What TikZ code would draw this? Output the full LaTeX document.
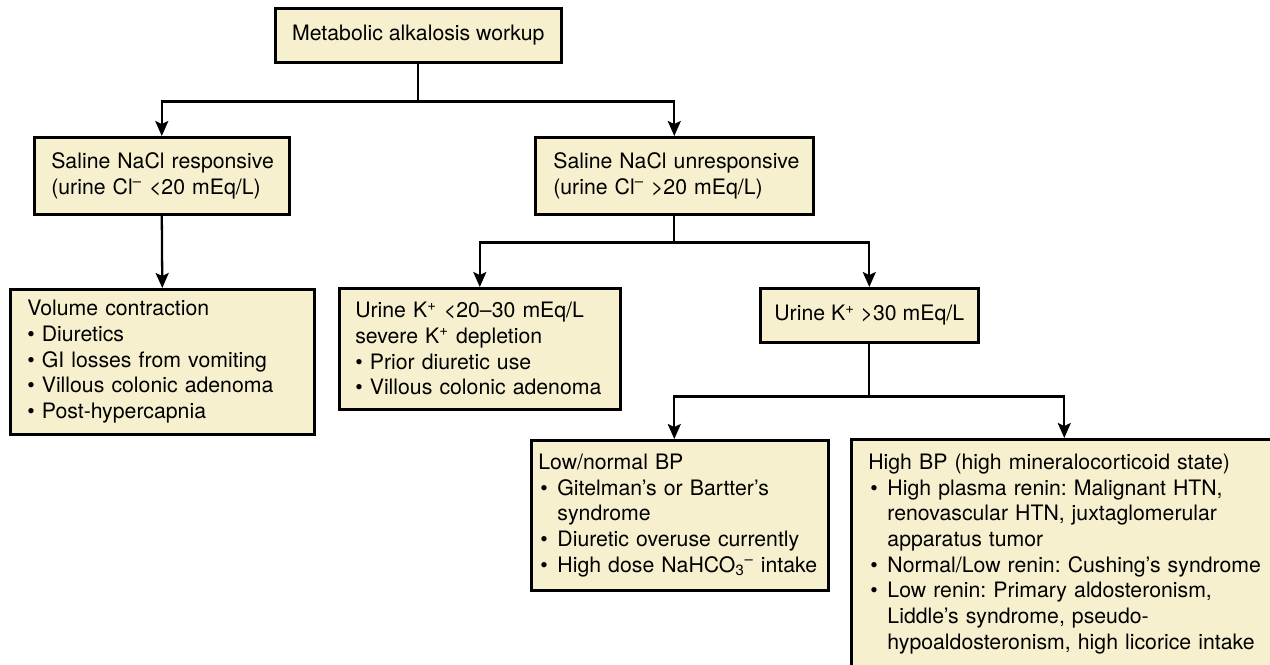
\documentclass[tikz,border=0pt]{standalone}
\usepackage{fontspec}
\setmainfont{TeX Gyre Heros}
\usetikzlibrary{arrows.meta}

\definecolor{boxfill}{RGB}{246,240,206}

\newcommand{\hb}{\makebox[0.9em][l]{\hspace{0.1em}\textbullet}}
\newcommand{\hc}{\hspace*{0.9em}}
\newcommand{\supminus}{\textsuperscript{--}}
\newcommand{\supplus}{\textsuperscript{+}}

\tikzset{
	box/.style={draw, fill=boxfill, line width=1.5pt, align=left, inner ysep=0pt,
		anchor=north west, font=\fontsize{12.1}{14.6}\selectfont,
		execute at begin node={\frenchspacing\hyphenpenalty=10000\rightskip=-0.8cm plus 1fil\relax}},
	arr/.style={line width=1.3pt, -{Stealth[length=3mm,width=2.6mm,inset=0.6mm]}}
}

\begin{document}
\begin{tikzpicture}[x=0.02cm, y=-0.02cm]
	\useasboundingbox (0,0) rectangle (1270,664);
	\clip (0,0) rectangle (1270,664);
	% boxes
	\node[box, align=center, minimum width=5.72cm, minimum height=1.08cm] (top) at (274,7)
		{Metabolic alkalosis workup};
	\node[box, inner xsep=0.34cm, text width=4.42cm, minimum height=1.54cm] (resp) at (33,136)
		{Saline NaCl responsive\\(urine Cl\supminus{} <20 mEq/L)};
	\node[box, inner xsep=0.36cm, text width=4.84cm, minimum height=1.54cm] (unresp) at (534,136)
		{Saline NaCl unresponsive\\(urine Cl\supminus{} >20 mEq/L)};
	\node[box, inner xsep=0.34cm, text width=5.4cm, minimum height=2.9cm] (vol) at (9,288)
		{Volume contraction\\\textbullet\ Diuretics\\\textbullet\ GI losses from vomiting\\
		\textbullet\ Villous colonic adenoma\\\textbullet\ Post-hypercapnia};
	\node[box, inner xsep=0.32cm, text width=4.98cm, minimum height=2.42cm] (k20) at (338,287)
		{Urine K\supplus{} <20--30 mEq/L\\severe K\supplus{} depletion\\\textbullet\ Prior diuretic use\\
		\textbullet\ Villous colonic adenoma};
	\node[box, align=center, minimum width=4.36cm, minimum height=1.08cm] (k30) at (759,287)
		{Urine K\supplus{} >30 mEq/L};
	\node[box, inner xsep=0.14cm, text width=5.66cm, minimum height=3.0cm] (lowbp) at (530,439)
		{Low/normal BP\\\hb Gitelman’s or Bartter’s\\\hc syndrome\\\hb Diuretic overuse currently\\
		\hb High dose NaHCO\textsubscript{3}\supminus{} intake};
	\node[box, inner xsep=0.34cm, text width=7.84cm, minimum height=4.58cm] (highbp) at (850,438)
		{High BP (high mineralocorticoid state)\\
		\hb High plasma renin: Malignant HTN,\\\hc renovascular HTN, juxtaglomerular\\\hc apparatus tumor\\
		\hb Normal/Low renin: Cushing’s syndrome\\
		\hb Low renin: Primary aldosteronism,\\\hc Liddle’s syndrome, pseudo-\\\hc hypoaldosteronism, high licorice intake};
	% connectors
	\draw[arr] (top.south) -- ++(0,38) -| (resp.north);
	\draw[arr] (top.south) -- ++(0,38) -| (unresp.north);
	\draw[arr] (resp.south) -- (vol.north);
	\draw[arr] (unresp.south) -- ++(0,27) -| (k20.north);
	\draw[arr] (unresp.south) -- ++(0,27) -| (k30.north);
	\draw[arr] (k30.south) -- ++(0,53) -| ([xshift=-0.11cm]lowbp.north);
	\draw[arr] (k30.south) -- ++(0,53) -| (highbp.north);
\end{tikzpicture}
\end{document}
